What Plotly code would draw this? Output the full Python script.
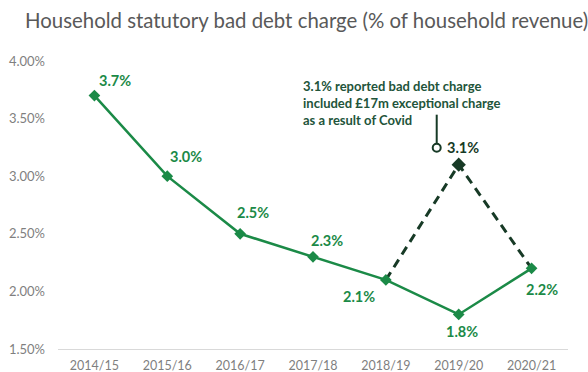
import plotly.graph_objects as go

# Financial years and household bad debt charge (% of household revenue)
years = ["2014/15", "2015/16", "2016/17", "2017/18", "2018/19", "2019/20", "2020/21"]
underlying = [3.7, 3.0, 2.5, 2.3, 2.1, 1.8, 2.2]

# Reported charge including the exceptional Covid charge in 2019/20
reported_years = ["2018/19", "2019/20", "2020/21"]
reported = [2.1, 3.1, 2.2]

y_ticks = [1.5, 2.0, 2.5, 3.0, 3.5, 4.0]
note = ("3.1% reported bad debt charge<br>"
        "included £17m exceptional charge<br>"
        "as a result of Covid")

GREEN = "#1b8a47"
DARK = "#173a26"
NOTE = "#22543a"
GREY = "#7f7f7f"

# Pixel offsets of each data label relative to its point
label_shift = [(21, 15), (19, 20), (13, 21), (14, 16), (-27, -17), (3, -17), (10, -21)]

fig = go.Figure()

fig.add_trace(go.Scatter(
    x=reported_years, y=reported, mode="lines+markers",
    line=dict(color=DARK, width=3, dash="9px,6px"),
    marker=dict(symbol="diamond", size=[0, 11, 0], color=DARK,
                line=dict(width=0), opacity=1),
    hoverinfo="skip", showlegend=False,
))

fig.add_trace(go.Scatter(
    x=years, y=underlying, mode="lines+markers",
    line=dict(color=GREEN, width=2.5),
    marker=dict(symbol="diamond", size=9, color=GREEN),
    showlegend=False,
))

for yr, v, (dx, dy) in zip(years, underlying, label_shift):
    fig.add_annotation(
        x=yr, y=v, text=f"{v:.1f}%", showarrow=False,
        xshift=dx, yshift=dy,
        font=dict(family="Lato", size=14.5, color=GREEN, weight="bold"),
    )

# Label for the reported 2019/20 value with its callout
fig.add_annotation(
    x="2019/20", y=reported[1], text=f"{reported[1]:.1f}%", showarrow=False,
    xanchor="left", xshift=-14, yshift=17,
    font=dict(family="Lato", size=14.5, color=DARK, weight="bold"),
)
fig.add_shape(
    type="circle", xref="x", yref="y",
    xsizemode="pixel", ysizemode="pixel",
    xanchor=5, yanchor=reported[1],
    x0=-26, x1=-18, y0=13, y1=21,
    line=dict(color=DARK, width=2), fillcolor="white",
)
fig.add_shape(
    type="line", xref="x", yref="y",
    xsizemode="pixel", ysizemode="pixel",
    xanchor=5, yanchor=reported[1],
    x0=-22, x1=-22, y0=21, y1=50,
    line=dict(color=DARK, width=2),
)
fig.add_annotation(
    xref="paper", yref="paper", x=(301 - 58) / 510, y=(349 - 76) / 288,
    text=note, showarrow=False, xanchor="left", yanchor="top", align="left",
    font=dict(family="Lato", size=13, color=NOTE, weight="bold"),
)

fig.update_layout(
    width=588, height=372,
    margin=dict(l=58, r=20, t=61, b=23),
    paper_bgcolor="white", plot_bgcolor="white",
    title=dict(
        text="Household statutory bad debt charge (% of household revenue)",
        x=25 / 588, xanchor="left", xref="container",
        y=1 - 21 / 372, yanchor="middle", yref="container",
        font=dict(family="Lato", size=20.4, color="#595959"),
    ),
    xaxis=dict(
        type="category", categoryorder="array", categoryarray=years,
        range=[-0.5, 6.5], showgrid=False, showline=True,
        linecolor="#d9d9d9", linewidth=1, ticks="", automargin=False,
        ticklabelstandoff=5,
        tickfont=dict(family="Lato", size=12.5, color=GREY),
    ),
    yaxis=dict(
        range=[1.5, 4.0], tickvals=y_ticks,
        ticktext=[f"{t:.2f}%" for t in y_ticks],
        showgrid=False, zeroline=False, showline=False, ticks="",
        ticklabelstandoff=12, automargin=False,
        tickfont=dict(family="Lato", size=13, color=GREY),
    ),
)

fig.write_html("out.html")
